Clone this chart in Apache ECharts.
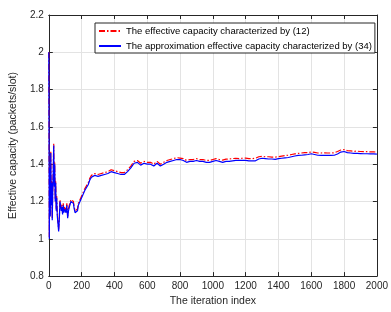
<!DOCTYPE html>
<html>
<head>
<meta charset="utf-8">
<script src="https://cdn.jsdelivr.net/npm/echarts@6/dist/echarts.min.js"></script>
<style>html,body{margin:0;padding:0;background:#fff;}#c{width:391px;height:312px;}</style>
</head>
<body>
<div id="c"></div>
<script>
var iterations = [0,3,6,9,12,15,18,21,24,27,30,33,36,39,42,45,48,52,56,60,64,68,72,76,80,84,88,92,96,100,105,110,115,120,125,130,135,140,145,150,155,160,165,170,175,180,190,200,210,220,230,240,250,260,270,280,290,300,310,320,330,340,350,360,370,380,390,400,410,420,430,440,450,460,470,480,490,500,510,520,530,540,550,560,570,580,590,600,610,620,630,640,650,660,670,680,690,700,720,740,760,780,800,820,840,860,880,900,920,940,960,980,1000,1020,1040,1060,1080,1100,1120,1140,1160,1180,1200,1220,1240,1260,1280,1300,1320,1340,1360,1380,1400,1420,1440,1460,1480,1500,1520,1540,1560,1580,1600,1620,1640,1660,1680,1700,1720,1740,1760,1780,1800,1820,1840,1860,1880,1900,1920,1940,1960,1980,2000];

var effCap = [2.0,1.01,1.39,1.13,1.47,1.19,1.31,1.11,1.26,1.37,1.51,1.29,1.41,1.21,1.31,1.16,1.23,1.13,1.09,1.05,1.11,1.21,1.19,1.16,1.18,1.14,1.19,1.15,1.17,1.18,1.15,1.19,1.12,1.16,1.18,1.19,1.21,1.205,1.21,1.2,1.17,1.15,1.14,1.15,1.16,1.19,1.21,1.23,1.24,1.27,1.28,1.30,1.325,1.34,1.335,1.35,1.34,1.345,1.34,1.35,1.35,1.355,1.35,1.36,1.365,1.37,1.375,1.365,1.37,1.36,1.365,1.355,1.35,1.355,1.365,1.37,1.38,1.39,1.40,1.415,1.425,1.42,1.41,1.405,1.41,1.415,1.42,1.41,1.405,1.41,1.405,1.40,1.41,1.415,1.405,1.40,1.405,1.41,1.42,1.425,1.43,1.435,1.433,1.43,1.42,1.425,1.425,1.43,1.424,1.425,1.42,1.42,1.425,1.43,1.425,1.422,1.427,1.428,1.43,1.432,1.43,1.432,1.433,1.43,1.43,1.432,1.44,1.442,1.44,1.44,1.438,1.438,1.44,1.443,1.446,1.448,1.452,1.455,1.458,1.46,1.462,1.462,1.466,1.463,1.46,1.46,1.461,1.46,1.46,1.461,1.468,1.476,1.478,1.473,1.471,1.469,1.47,1.468,1.467,1.467,1.466,1.466,1.465];

var approxCap = [2.0,1.0,1.38,1.12,1.46,1.18,1.30,1.10,1.25,1.36,1.50,1.28,1.40,1.20,1.30,1.15,1.22,1.12,1.08,1.04,1.10,1.20,1.18,1.15,1.17,1.13,1.18,1.14,1.16,1.17,1.14,1.18,1.11,1.15,1.17,1.18,1.20,1.195,1.20,1.19,1.16,1.14,1.13,1.14,1.15,1.18,1.20,1.22,1.23,1.26,1.27,1.29,1.315,1.33,1.325,1.34,1.33,1.335,1.33,1.34,1.34,1.345,1.34,1.35,1.355,1.36,1.365,1.355,1.36,1.35,1.355,1.345,1.34,1.345,1.355,1.36,1.37,1.38,1.39,1.405,1.415,1.41,1.40,1.395,1.40,1.405,1.41,1.40,1.395,1.40,1.395,1.39,1.40,1.405,1.395,1.39,1.395,1.40,1.41,1.415,1.42,1.425,1.425,1.42,1.41,1.415,1.415,1.42,1.415,1.415,1.41,1.41,1.415,1.42,1.415,1.41,1.415,1.415,1.418,1.42,1.42,1.42,1.42,1.418,1.418,1.418,1.428,1.432,1.43,1.428,1.428,1.426,1.43,1.432,1.434,1.436,1.44,1.444,1.447,1.448,1.45,1.452,1.456,1.452,1.448,1.447,1.448,1.447,1.447,1.448,1.455,1.465,1.468,1.462,1.46,1.458,1.458,1.457,1.456,1.456,1.455,1.455,1.454];

var xTicks = [0,200,400,600,800,1000,1200,1400,1600,1800,2000];
var yTicks = [0.8,1,1.2,1.4,1.6,1.8,2,2.2];

var legendNames = ['The effective capacity characterized by (12)', 'The approximation effective capacity characterized by (34)'];

function pairs(xs, ys) { return xs.map(function (x, i) { return [x, ys[i]]; }); }

var FONT = '"Liberation Sans", Arial, sans-serif';
var AX = '#262626';
var chart = echarts.init(document.getElementById('c'), null, {renderer: 'canvas'});
var baseX = {
  type: 'value', min: xTicks[0], max: xTicks[xTicks.length - 1], interval: 200,
  axisLine: {show: true, onZero: false, lineStyle: {color: AX, width: 1}},
  axisTick: {show: true, inside: true, length: 4, lineStyle: {color: AX}},
  splitLine: {show: false}
};
var baseY = {
  type: 'value', min: yTicks[0], max: yTicks[yTicks.length - 1], interval: 0.2,
  axisLine: {show: true, onZero: false, lineStyle: {color: AX, width: 1}},
  axisTick: {show: true, inside: true, length: 4, lineStyle: {color: AX}},
  splitLine: {show: false}
};
chart.setOption({
  animation: false,
  backgroundColor: '#fff',
  textStyle: {fontFamily: FONT},
  grid: {left: 41, right: 13, top: 15, bottom: 33, containLabel: false},
  legend: {
    left: 95, top: 23, orient: 'vertical',
    data: legendNames,
    itemWidth: 22, itemHeight: 8, itemGap: 5,
    padding: [3, 3, 2, 3],
    borderColor: AX, borderWidth: 1, backgroundColor: '#fff',
    itemStyle: {opacity: 0},
    textStyle: {fontSize: 9.5, color: '#000', fontFamily: FONT}
  },
  xAxis: [
    Object.assign({}, baseX, {
      position: 'bottom',
      name: 'The iteration index', nameLocation: 'middle', nameGap: 16,
      nameTextStyle: {fontSize: 10.5, color: '#262626', fontFamily: FONT},
      axisLabel: {fontSize: 10, color: '#262626', margin: 5, fontFamily: FONT,
        formatter: function (v) { return String(v); }},
      splitLine: {show: true, lineStyle: {color: '#e3e3e3', width: 1}}
    }),
    Object.assign({}, baseX, {position: 'top', axisLabel: {show: false}})
  ],
  yAxis: [
    Object.assign({}, baseY, {
      position: 'left',
      name: 'Effective capacity (packets/slot)', nameLocation: 'middle', nameGap: 25,
      nameTextStyle: {fontSize: 10.5, color: '#262626', fontFamily: FONT},
      axisLabel: {fontSize: 10, color: '#262626', margin: 5, fontFamily: FONT,
        formatter: function (v) { return String(Math.round(v * 10) / 10); }},
      splitLine: {show: true, lineStyle: {color: '#e3e3e3', width: 1}}
    }),
    Object.assign({}, baseY, {position: 'right', axisLabel: {show: false}})
  ],
  series: [
    {
      name: legendNames[0], type: 'line', symbol: 'none', xAxisIndex: 0, yAxisIndex: 0,
      data: pairs(iterations, effCap),
      lineStyle: {color: '#ff0000', width: 1.2, type: [6, 2, 1.5, 2]},
      itemStyle: {color: '#ff0000'}
    },
    {
      name: legendNames[1], type: 'line', symbol: 'none', xAxisIndex: 0, yAxisIndex: 0,
      data: pairs(iterations, approxCap),
      lineStyle: {color: '#0000ff', width: 1.2},
      itemStyle: {color: '#0000ff'}
    }
  ]
});
</script>
</body>
</html>
